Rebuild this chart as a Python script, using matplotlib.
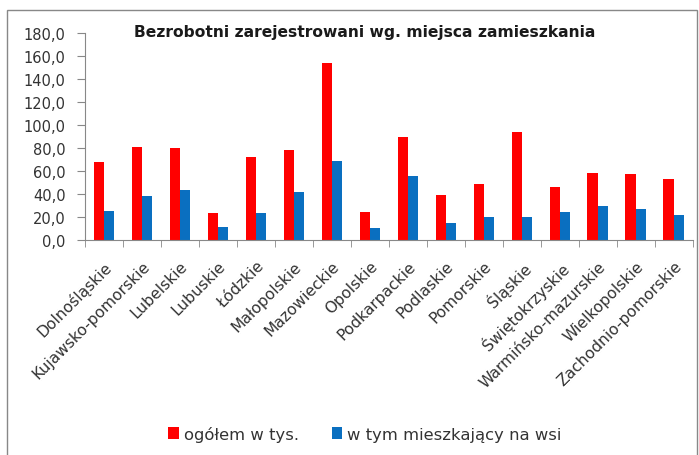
import numpy as np
import matplotlib.pyplot as plt
from matplotlib.patches import Rectangle
from matplotlib.transforms import ScaledTranslation

# wojewodztwa
regions = ['Dolnośląskie', 'Kujawsko-pomorskie', 'Lubelskie', 'Lubuskie', 'Łódzkie',
           'Małopolskie', 'Mazowieckie', 'Opolskie', 'Podkarpackie', 'Podlaskie',
           'Pomorskie', 'Śląskie', 'Świętokrzyskie', 'Warmińsko-mazurskie',
           'Wielkopolskie', 'Zachodnio-pomorskie']
ogolem = [67.7, 81.3, 79.9, 23.2, 71.8, 78.5, 153.6, 24.6, 89.8, 39.4,
          49.0, 93.5, 46.0, 58.5, 57.0, 52.7]
wies = [25.0, 37.9, 43.4, 11.0, 23.2, 42.0, 68.9, 10.8, 55.6, 15.1,
        20.3, 20.3, 24.6, 29.9, 27.3, 21.7]
yticks = np.arange(0, 181, 20)

plt.rcParams['font.family'] = ['DejaVu Sans']

fig = plt.figure(figsize=(6.99, 4.56), dpi=100)
ax = fig.add_axes([0.1216, 0.4715, 0.8694, 0.4539])

x = np.arange(len(regions))
w = 0.27
ax.bar(x - w / 2, ogolem, w, color='#FF0000', label='ogółem w tys.')
ax.bar(x + w / 2, wies, w, color='#0A6FC0', label='w tym mieszkający na wsi')

ax.set_xlim(-0.5, len(regions) - 0.5)
ax.set_ylim(0, 180)
ax.set_yticks(yticks)
ax.yaxis.set_major_formatter(plt.FuncFormatter(lambda v, p: ('%.1f' % v).replace('.', ',')))

ax.set_xticks(x)
ax.set_xticklabels(regions, rotation=45, ha='right', rotation_mode='anchor')
shift = ScaledTranslation(4 / 100, 0, fig.dpi_scale_trans)
for lab in ax.get_xticklabels():
    lab.set_transform(lab.get_transform() + shift)
ax.set_xticks(np.arange(-0.5, len(regions)), minor=True)
ax.tick_params(axis='x', which='major', length=0, pad=13, labelsize=11.2, labelcolor='#333333')
ax.tick_params(axis='x', which='minor', length=5, color='#888888')
ax.tick_params(axis='y', length=6, color='#888888', labelsize=10.5, labelcolor='#333333', pad=8)

for s in ['top', 'right']:
    ax.spines[s].set_visible(False)
for s in ['left', 'bottom']:
    ax.spines[s].set_color('#888888')

fig.text(0.522, 0.928, 'Bezrobotni zarejestrowani wg. miejsca zamieszkania',
         ha='center', va='center', fontsize=11.2, fontweight='bold', color='#1a1a1a')

fig.legend(loc='center', bbox_to_anchor=(0.522, 0.047), ncol=2, frameon=False,
           handlelength=0.65, handleheight=0.75, handletextpad=0.3, columnspacing=2.0,
           fontsize=11.8, labelcolor='#333333')

fig.patches.append(Rectangle((7 / 699, -0.01), 690 / 699, 1 - 11 / 456 + 0.01,
                             transform=fig.transFigure, fill=False,
                             edgecolor='#888888', linewidth=1))

fig.savefig('out.png', dpi=100)
